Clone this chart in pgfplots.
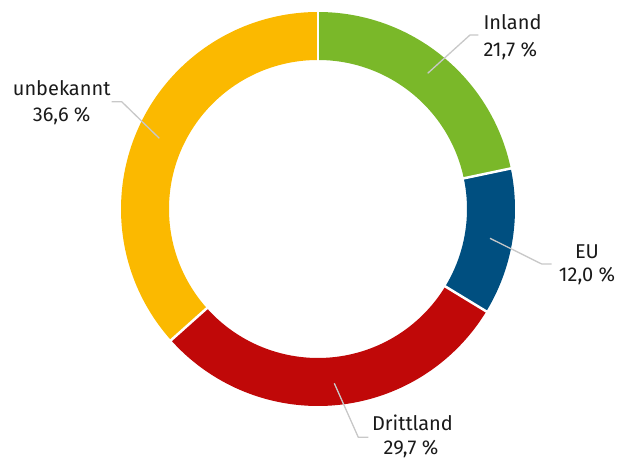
\documentclass[border=0pt]{standalone}
\usepackage{pgfplots}
\pgfplotsset{compat=1.18}
\usepackage{fontspec}
\setmainfont{Fira Sans}
\definecolor{cInland}{RGB}{122,184,41}
\definecolor{cEU}{RGB}{0,79,128}
\definecolor{cDritt}{RGB}{192,8,8}
\definecolor{cUnb}{RGB}{251,185,0}
\definecolor{leader}{RGB}{200,200,200}
\definecolor{txt}{RGB}{26,26,26}
\tikzset{lab/.style={inner sep=0pt, text=txt, font=\fontsize{20}{24}\selectfont}}
\begin{document}
\begin{tikzpicture}
% shares in percent
\def\vInland{21.7}\def\vEU{12.0}\def\vDritt{29.7}\def\vUnb{36.6}
\pgfmathsetmacro\aA{90}
\pgfmathsetmacro\aB{\aA-3.6*\vInland}
\pgfmathsetmacro\aC{\aB-3.6*\vEU}
\pgfmathsetmacro\aD{\aC-3.6*\vDritt}
\pgfmathsetmacro\aE{\aD-3.6*\vUnb}
\def\Ro{197pt}\def\Ri{149pt}
\begin{axis}[hide axis, scale only axis, width=625pt, height=460pt,
  xmin=0, xmax=625, ymin=0, ymax=460, clip=false]
\addplot[draw=none] coordinates {(318,251)};
\fill[cInland] ([shift={(\aA:\Ro)}]axis cs:318,251) arc[start angle=\aA, end angle=\aB, radius=\Ro]
  -- ([shift={(\aB:\Ri)}]axis cs:318,251) arc[start angle=\aB, end angle=\aA, radius=\Ri] -- cycle;
\fill[cEU] ([shift={(\aB:\Ro)}]axis cs:318,251) arc[start angle=\aB, end angle=\aC, radius=\Ro]
  -- ([shift={(\aC:\Ri)}]axis cs:318,251) arc[start angle=\aC, end angle=\aB, radius=\Ri] -- cycle;
\fill[cDritt] ([shift={(\aC:\Ro)}]axis cs:318,251) arc[start angle=\aC, end angle=\aD, radius=\Ro]
  -- ([shift={(\aD:\Ri)}]axis cs:318,251) arc[start angle=\aD, end angle=\aC, radius=\Ri] -- cycle;
\fill[cUnb] ([shift={(\aD:\Ro)}]axis cs:318,251) arc[start angle=\aD, end angle=\aE, radius=\Ro]
  -- ([shift={(\aE:\Ri)}]axis cs:318,251) arc[start angle=\aE, end angle=\aD, radius=\Ri] -- cycle;
% separators
\draw[white, line width=2.5pt] ([shift={(\aA:140pt)}]axis cs:318,251) -- ([shift={(\aA:205pt)}]axis cs:318,251);
\draw[white, line width=2.5pt] ([shift={(\aB:140pt)}]axis cs:318,251) -- ([shift={(\aB:205pt)}]axis cs:318,251);
\draw[white, line width=2.5pt] ([shift={(\aC:140pt)}]axis cs:318,251) -- ([shift={(\aC:205pt)}]axis cs:318,251);
\draw[white, line width=2.5pt] ([shift={(\aD:140pt)}]axis cs:318,251) -- ([shift={(\aD:205pt)}]axis cs:318,251);
% leader lines
\draw[leader, line width=1.3pt] (axis cs:427.7,386.7) -- (axis cs:470,425) -- (axis cs:478.3,425);
\draw[leader, line width=1.3pt] (axis cs:159.3,321.7) -- (axis cs:121.7,358.3) -- (axis cs:111.7,358.3);
\draw[leader, line width=1.3pt] (axis cs:490,221.7) -- (axis cs:541.7,196) -- (axis cs:551.7,196);
\draw[leader, line width=1.3pt] (axis cs:334.3,76.7) -- (axis cs:358.3,22.7) -- (axis cs:368.3,22.7);
% labels
\node[lab, anchor=base west] at (axis cs:483.3,430) {Inland};
\node[lab, anchor=base west] at (axis cs:483.3,403.3) {21,7 \%};
\node[lab, anchor=base] at (axis cs:61.7,364) {unbekannt};
\node[lab, anchor=base] at (axis cs:61.7,338.3) {36,6 \%};
\node[lab, anchor=base] at (axis cs:587,201.7) {EU};
\node[lab, anchor=base] at (axis cs:587,178.3) {12,0 \%};
\node[lab, anchor=base] at (axis cs:412.5,29.5) {Drittland};
\node[lab, anchor=base] at (axis cs:411,5.5) {29,7 \%};
\end{axis}
\pgfresetboundingbox
\useasboundingbox (0,0) rectangle (625pt,460pt);
\end{tikzpicture}
\end{document}
